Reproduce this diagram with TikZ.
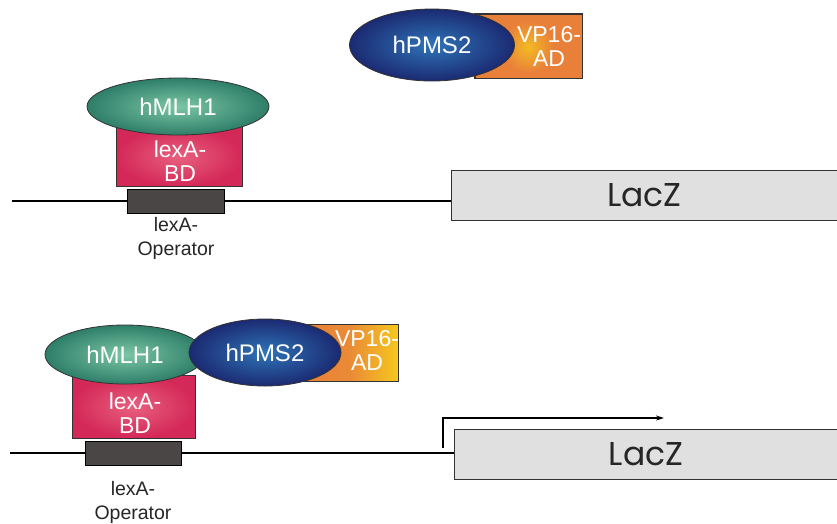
\documentclass[tikz,border=0pt]{standalone}
\usepackage{fontspec}
\setmainfont{Liberation Sans}
\newfontfamily\gothic{Poppins}
\usetikzlibrary{shapes.geometric,arrows.meta}
\definecolor{tealin}{HTML}{7CC6A6}
\definecolor{tealout}{HTML}{2E7E68}
\definecolor{bluein}{HTML}{2F74B8}
\definecolor{blueout}{HTML}{1B2A72}
\definecolor{redin}{HTML}{E8607E}
\definecolor{redout}{HTML}{D42858}
\definecolor{orng}{HTML}{E8803A}
\definecolor{yllw}{HTML}{F6C81E}
\definecolor{oper}{HTML}{4A4646}
\definecolor{lacz}{HTML}{E0E0E0}
\definecolor{edge}{HTML}{333333}
\tikzset{
  prot/.style={ellipse, draw=edge, line width=0.8pt, text=white, font=\fontsize{24}{24}\selectfont, inner sep=0pt},
  mlh/.style={prot, inner color=tealin, outer color=tealout},
  pms/.style={prot, inner color=bluein, outer color=blueout},
  bd/.style={rectangle, draw=edge, line width=0.8pt, inner color=redin, outer color=redout, inner sep=0pt},
  opbox/.style={rectangle, draw=black, line width=0.6pt, fill=oper, inner sep=0pt},
  laczbox/.style={rectangle, draw=edge, line width=0.8pt, fill=lacz, font=\gothic\fontsize{33}{33}\selectfont, text=black!85, inner sep=0pt},
  adbox/.style={rectangle, draw=edge, line width=0.8pt, inner sep=0pt},
  adtext/.style={text=white, font=\fontsize{23}{24}\selectfont, align=center},
  oplabel/.style={font=\fontsize{19.5}{24}\selectfont, align=center, text=black!85},
  dna/.style={line width=2.8pt, black},
}
\begin{document}
\begin{tikzpicture}[x=1pt,y=-1pt]
\useasboundingbox (0,0) rectangle (837,523);
% ---------- top panel ----------
\coordinate (dnaL1) at (12,201);
\node[laczbox, minimum width=386pt, minimum height=50pt] (lacz1) at (644.5,195.5) {LacZ};
\draw[dna] (dnaL1) -- (dnaL1 -| lacz1.west);
\node[opbox, minimum width=97pt, minimum height=24pt] (op1) at (175.5,201) {};
\node[oplabel] (oplab1) at (176,238) {lexA-\\Operator};
\node[bd, minimum width=126pt, minimum height=60pt] (bd1) at (179,156.5) {};
\node[adtext] (bdt1) at (180,161) {lexA-\\BD};
\node[mlh, minimum width=182pt, minimum height=57pt] (mlh1) at (178,106.5) {hMLH1};
% AD box top
\node[adbox, fill=orng, minimum width=107pt, minimum height=64pt] (ad1) at (528.5,46) {};
\begin{scope}
  \clip (ad1.south west) rectangle (ad1.north east);
  \shade[inner color=yllw!80!orng, outer color=orng] (528,47) circle (26pt);
\end{scope}
\draw[edge, line width=0.8pt] (ad1.south west) rectangle (ad1.north east);
\node[pms, minimum width=165pt, minimum height=72pt] (pms1) at (432,45) {hPMS2};
\node[adtext] (adt1) at (549,46) {VP16-\\AD};
% ---------- bottom panel ----------
\coordinate (dnaL2) at (10,453);
\node[laczbox, minimum width=384pt, minimum height=50pt] (lacz2) at (646,454) {LacZ};
\draw[dna] (dnaL2) -- (dnaL2 -| lacz2.west);
\node[opbox, minimum width=96pt, minimum height=24pt] (op2) at (133,453) {};
\node[oplabel] (oplab2) at (133,502) {lexA-\\Operator};
\node[bd, minimum width=123pt, minimum height=63pt] (bd2) at (133.5,406.5) {};
\node[adtext] (bdt2) at (135,413) {lexA-\\BD};
\node[mlh, minimum width=160pt, minimum height=59pt] (mlh2) at (125,354.5) {hMLH1};
\node[adbox, left color=orng, right color=yllw, middle color=orng!85!yllw, minimum width=95pt, minimum height=57pt] (ad2) at (350.5,352.5) {};
\node[pms, minimum width=152pt, minimum height=67pt] (pms2) at (265,352.5) {hPMS2};
\node[adtext] (adt2) at (367,350) {VP16-\\AD};
% transcription arrow
\coordinate (tss) at (443,448);
\coordinate (tssup) at (443,418);
\coordinate (tssend) at (664,418);
\draw[line width=1.8pt, -{Stealth[length=8pt,width=5pt]}] (tss) -- (tssup) -- (tssend);
\end{tikzpicture}
\end{document}
